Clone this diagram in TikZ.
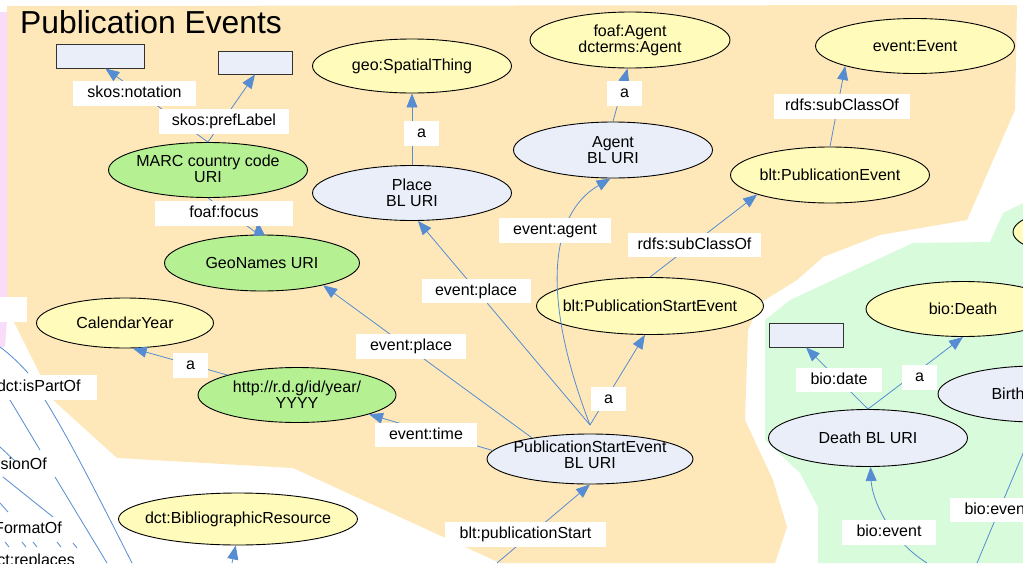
\documentclass[tikz,border=0pt]{standalone}
\usepackage{fontspec}
\setmainfont{Liberation Sans}
\usetikzlibrary{shapes.geometric,arrows.meta}
\definecolor{orangebg}{RGB}{254,232,186}
\definecolor{greenbg}{RGB}{216,251,220}
\definecolor{pinkbg}{RGB}{249,220,249}
\definecolor{yellowfill}{RGB}{255,251,186}
\definecolor{bluefill}{RGB}{233,238,249}
\definecolor{greenfill}{RGB}{181,241,146}
\definecolor{edgeblue}{RGB}{86,140,210}
\begin{document}
\begin{tikzpicture}[x=1pt,y=-1pt,
  font=\fontsize{16}{16}\selectfont,
  ell/.style={ellipse,draw=black,line width=0.9pt,inner sep=0pt},
  cls/.style={ell,fill=yellowfill},
  res/.style={ell,fill=bluefill},
  uri/.style={ell,fill=greenfill},
  lit/.style={rectangle,draw=black!80,line width=0.9pt,fill=bluefill,inner sep=0pt},
  lbl/.style={rectangle,fill=white,inner sep=0pt,minimum height=24.5pt,text height=11.5pt,text depth=3.5pt,minimum width=#1},
  frag/.style={inner sep=0pt,text height=11.5pt,text depth=3.5pt},
  conn/.style={draw=edgeblue,line width=0.8pt,-{Triangle[length=14pt,width=11pt]}},
  plainline/.style={draw=edgeblue,line width=0.8pt}
]
\useasboundingbox (0,0) rectangle (1023,563);
\clip (0,0) rectangle (1023,563);
\fill[white] (0,0) rectangle (1023,563);
% regions
\fill[pinkbg] (0,12) -- (7,12) -- (7,320) -- (5,347) -- (0,347) -- cycle;
\fill[orangebg] (7,6) -- (1017,5) -- (1015,110) -- (967,220) -- (880,235) -- (823,257) -- (797,280) -- (760,303) -- (748,330) -- (745,420) -- (773,480) -- (787,527) -- (775,563) -- (500,563) -- (293,468) -- (117,458) -- (53,400) -- (13,320) -- (7,300) -- cycle;
\fill[greenbg] (790,300) -- (913,243) -- (990,242) -- (1003,213) -- (1023,203) -- (1023,563) -- (818,563) -- (818,507) -- (800,473) -- (765,440) -- (765,320) -- cycle;

\node[anchor=base west,inner sep=0pt,font=\fontsize{31.8}{32}\selectfont] (title) at (20,33) {Publication Events};

% nodes
\node[uri,minimum width=199pt,minimum height=55pt,label={[align=center,yshift=1pt]center:{MARC country code\\URI}}] (marc) at (208,170) {};
\node[uri,minimum width=195pt,minimum height=56pt,label={center:{GeoNames URI}}] (geonames) at (262,263) {};
\node[cls,minimum width=177pt,minimum height=50pt,label={center:{CalendarYear}}] (calyear) at (125,323) {};
\node[uri,minimum width=198pt,minimum height=55pt,label={[align=center]center:{http://r.d.g/id/year/\\YYYY}}] (httpyear) at (297,395) {};
\node[cls,minimum width=239pt,minimum height=52pt,label={center:{dct:BibliographicResource}}] (dctbib) at (238,519) {};
\node[cls,minimum width=199pt,minimum height=54pt,label={center:{geo:SpatialThing}}] (geost) at (412,66) {};
\node[res,minimum width=199pt,minimum height=55pt,label={[align=center]center:{Place\\BL URI}}] (place) at (412,193) {};
\node[cls,minimum width=200pt,minimum height=56pt,label={[align=center]center:{foaf:Agent\\dcterms:Agent}}] (foafagent) at (630,40) {};
\node[res,minimum width=199pt,minimum height=56pt,label={[align=center]center:{Agent\\BL URI}}] (agent) at (613,150) {};
\node[cls,minimum width=227pt,minimum height=57pt,label={center:{blt:PublicationStartEvent}}] (bltpse) at (650,306) {};
\node[cls,minimum width=199pt,minimum height=56pt,label={center:{blt:PublicationEvent}}] (bltpe) at (830,175) {};
\node[cls,minimum width=199pt,minimum height=55pt,label={center:{event:Event}}] (event) at (915,46) {};
\node[res,minimum width=206pt,minimum height=50pt,label={[align=center,yshift=4pt]center:{PublicationStartEvent\\BL URI}}] (pse) at (590,459) {};
\node[res,minimum width=199pt,minimum height=57pt,label={center:{Death BL URI}}] (death) at (868,438) {};
\node[cls,minimum width=194pt,minimum height=55pt,label={center:{bio:Death}}] (biodeath) at (963,309) {};
\node[res,minimum width=196pt,minimum height=56pt,label={center:{Birth BL URI}}] (birth) at (1036,394) {};
\node[cls,minimum width=194pt,minimum height=55pt] (topright) at (1110,232) {};

\node[lit,minimum width=88pt,minimum height=24pt] (rect1) at (100,56) {};
\node[lit,minimum width=74pt,minimum height=23pt] (rect2) at (255,62.5) {};
\node[lit,minimum width=74pt,minimum height=24pt] (rect3) at (806,335) {};

\coordinate (conv) at (590,425);
\coordinate (srcpub) at (497,563);
\coordinate (srcbib) at (232,563);
\coordinate (srcdeath) at (927,563);
\coordinate (srcbirth) at (977,563);

% connectors
\draw[conn] (marc.north) -- (rect1.-67);
\draw[conn] (marc.north) -- (rect2.south);
\draw[plainline] (marc.south) -- (geonames.96);
\draw[conn] (geonames.96) -- ++(-1,-13);
\draw[conn] (place.north) -- (geost.south);
\draw[conn] (agent.north) -- (foafagent.-95);
\draw[conn] (conv) -- (place.-78);
\draw[conn] (conv) .. controls (542,300) and (548,215) .. (agent.-95);
\draw[conn] (conv) -- (bltpse.-100);
\draw[conn] (bltpse.north) -- (bltpe.-165);
\draw[conn] (bltpe.north) -- (event.-164);
\draw[conn] (pse.160) -- (geonames.-20);
\draw[conn] (pse.175) -- (httpyear.-15);
\draw[conn] (httpyear.164) -- (calyear.-73);
\draw[conn] (srcpub) -- (pse.south);
\draw[conn] (srcbib) -- (dctbib.-95);
\draw[conn] (death.north) -- (rect3.south);
\draw[conn] (death.north) -- (biodeath.south);
\draw[conn] (srcdeath) .. controls (890,540) and (872,500) .. (death.-85);
\draw[conn] (srcbirth) -- (birth.south);

% cut-off edges on the left
\draw[plainline] (0,347) .. controls (12,356) and (20,364) .. (28,373);
\draw[plainline] (45,400) .. controls (70,440) and (100,500) .. (132,563);
\draw[plainline] (10,400) -- (40,450);
\draw[plainline] (0,447) -- (15,461);
\draw[plainline] (3,477) -- (53,517);
\draw[plainline] (55,477) -- (107,563);
\draw[plainline] (0,503) -- (8,512);
\draw[plainline] (5,542) -- (9,547);
\draw[plainline] (22,542) -- (26,547);
\draw[plainline] (33,542) -- (37,547);
\draw[plainline] (57,542) -- (61,547);
\draw[plainline] (73,543) -- (77,548);

% edge labels
\node[lbl=123pt] (lnotation) at (134.5,93.5) {skos:notation};
\node[lbl=130pt] (lpref) at (224,121.5) {skos:prefLabel};
\node[lbl=138pt] (lfocus) at (224,213.5) {foaf:focus};
\node[lbl=35pt] (la1) at (421.5,133.5) {a};
\node[lbl=35pt] (la2) at (624.5,93.5) {a};
\node[lbl=112pt] (lagent) at (555,230.5) {event:agent};
\node[lbl=109pt] (lplace1) at (476,291) {event:place};
\node[lbl=133pt] (lsub1) at (694.5,245) {rdfs:subClassOf};
\node[lbl=136pt] (lsub2) at (842,106.5) {rdfs:subClassOf};
\node[lbl=35pt] (la3) at (608.5,399) {a};
\node[lbl=110pt] (lplace2) at (411,346.5) {event:place};
\node[lbl=102pt] (ltime) at (426,435) {event:time};
\node[lbl=35pt] (la4) at (190.5,365.5) {a};
\node[lbl=161pt] (lpubstart) at (525.5,534.5) {blt:publicationStart};
\node[lbl=86pt] (ldate) at (839,380) {bio:date};
\node[lbl=35pt] (la5) at (919.5,377.5) {a};
\node[lbl=94pt] (lbioevent1) at (889,532.5) {bio:event};
\node[lbl=94pt] (lbioevent2) at (997,510) {bio:event};

\node[rectangle,fill=white,inner sep=0pt,minimum width=27pt,minimum height=25pt,anchor=north west] (cutbox) at (0,297) {};
\node[lbl=116pt,anchor=east] (lispartof) at (97,387.5) {dct:isPartOf};
\node[frag,anchor=east] (lversion) at (47,465) {rsionOf};
\node[frag,anchor=east] (lformat) at (62,529) {FormatOf};
\node[frag,anchor=east] (lreplaces) at (75,561) {ct:replaces};
\end{tikzpicture}
\end{document}
